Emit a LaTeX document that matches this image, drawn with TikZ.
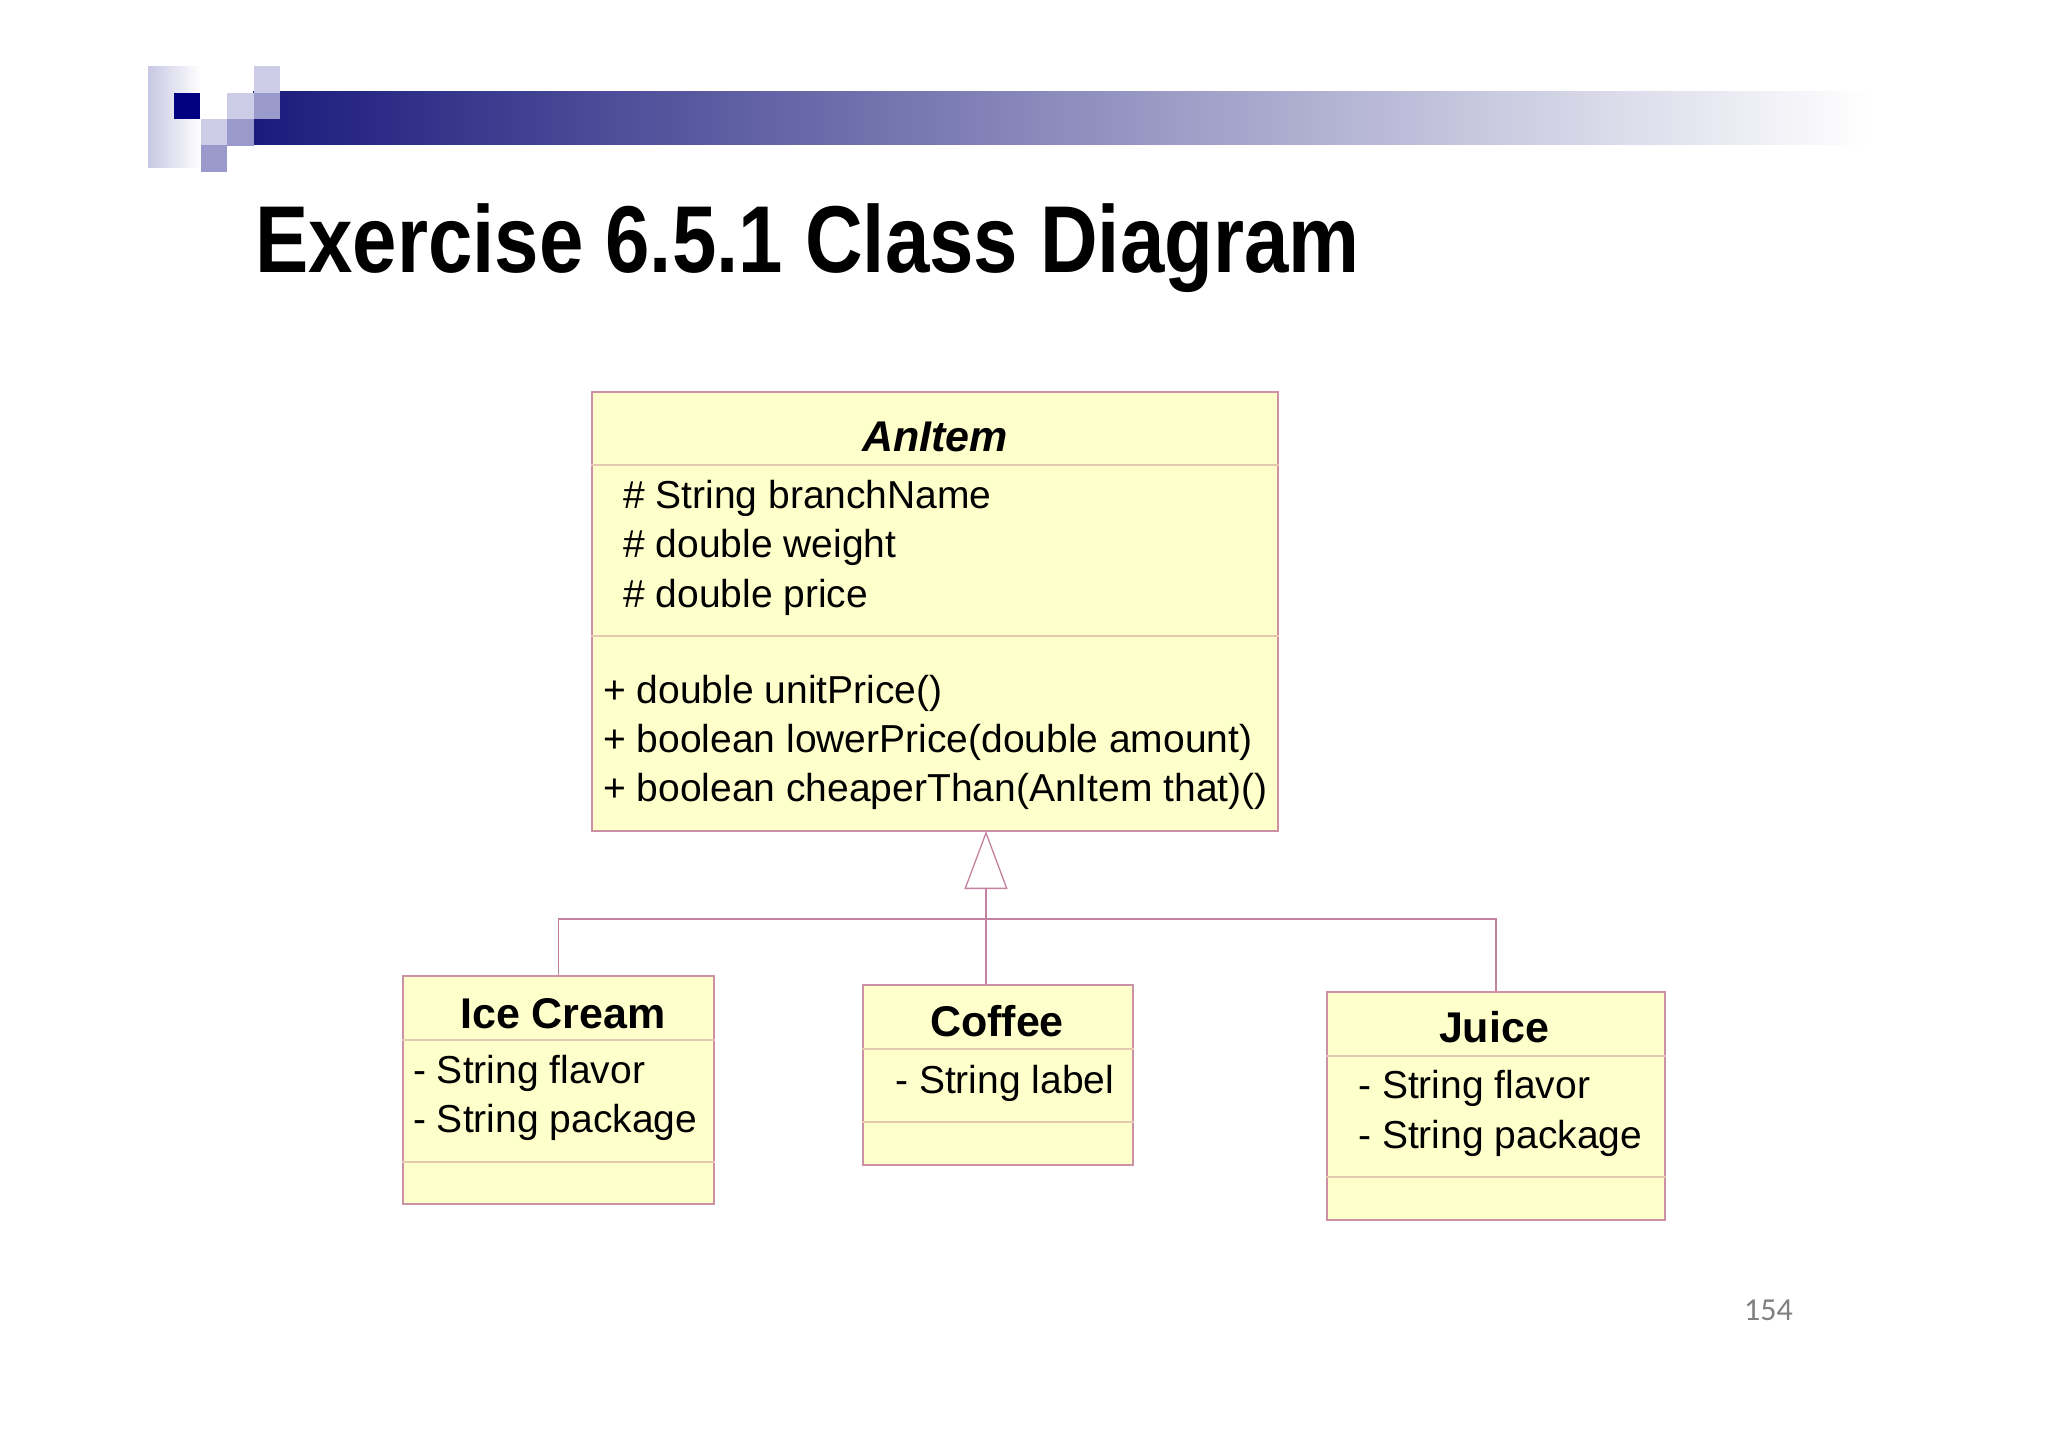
\documentclass[tikz,border=0pt]{standalone}
\usepackage{fontspec}
\setmainfont{Liberation Sans}
\newfontfamily\titlefont[FakeStretch=0.84]{Liberation Sans}
\newfontfamily\numfont{Carlito}
\usetikzlibrary{arrows.meta}
\definecolor{navy}{RGB}{0,0,128}
\definecolor{barleft}{RGB}{26,26,124}
\definecolor{barmid}{RGB}{140,140,178}
\definecolor{lightlav}{RGB}{204,204,230}
\definecolor{medlav}{RGB}{153,153,204}
\definecolor{collav}{RGB}{200,200,228}
\definecolor{boxfill}{RGB}{255,255,204}
\definecolor{boxline}{RGB}{205,145,165}
\definecolor{sepline}{RGB}{228,200,175}
\definecolor{connline}{RGB}{195,130,160}
\definecolor{pagenum}{RGB}{128,128,128}
\begin{document}
\begin{tikzpicture}[x=1pt,y=-1pt,
  classbox/.style={draw=boxline, fill=boxfill, line width=1.3pt, inner sep=0, rectangle},
  sepline/.style={draw=sepline, line width=1.3pt},
  member/.style={anchor=base west, inner sep=0, font=\fontsize{39}{46}\selectfont},
  cname/.style={anchor=base, inner sep=0, font=\fontsize{43}{50}\selectfont\bfseries},
  conn/.style={draw=connline, line width=1.3pt},
  sq/.style={inner sep=0, minimum size=26.6pt, anchor=north west}]
\useasboundingbox (0,0) rectangle (2048,1447);
\fill[white] (0,0) rectangle (2048,1447);

% logo
\shade[left color=collav, right color=white] (148,67) rectangle (201,168);
\shade[left color=barleft, middle color=barmid, right color=white] (253,92) rectangle (1870,145);
\node[sq, fill=navy] (n1) at (173.5,92.5) {};
\node[sq, fill=lightlav] (n2) at (253.5,66) {};
\node[sq, fill=lightlav] (n3) at (227,92.5) {};
\node[sq, fill=medlav] (n4) at (253.5,92.5) {};
\node[sq, fill=lightlav] (n5) at (200.5,119) {};
\node[sq, fill=medlav] (n6) at (227,119) {};
\node[sq, fill=medlav] (n7) at (200.5,145) {};

% title
\node[anchor=base west, inner sep=0, font=\titlefont\bfseries\fontsize{95}{110}\selectfont] (title) at (255,273) {Exercise 6.5.1 Class Diagram};

% AnItem
\node[classbox, minimum width=686pt, minimum height=439pt] (anitem) at (935,611.5) {};
\draw[sepline] (anitem.west |- 0,465) -- (anitem.east |- 0,465);
\draw[sepline] (anitem.west |- 0,636) -- (anitem.east |- 0,636);
\node[cname, font=\fontsize{43}{50}\selectfont\bfseries\itshape] (anitemname) at (935,451) {AnItem};
\node[member] (a1) at (623,508) {\# String branchName};
\node[member] (a2) at (623,557.5) {\# double weight};
\node[member] (a3) at (623,607) {\# double price};
\node[member] (m1) at (603,703) {+ double unitPrice()};
\node[member] (m2) at (603,752) {+ boolean lowerPrice(double amount)};
\node[member] (m3) at (603,801) {+ boolean cheaperThan(AnItem that)()};

% Ice Cream
\node[classbox, minimum width=311pt, minimum height=228pt] (icecream) at (558.5,1090) {};
\draw[sepline] (icecream.west |- 0,1040) -- (icecream.east |- 0,1040);
\draw[sepline] (icecream.west |- 0,1162) -- (icecream.east |- 0,1162);
\node[cname] (icname) at (563,1028) {Ice Cream};
\node[member] (ic1) at (413,1083) {- String flavor};
\node[member] (ic2) at (413,1132) {- String package};

% Coffee
\node[classbox, minimum width=270pt, minimum height=180pt] (coffee) at (998,1075) {};
\draw[sepline] (coffee.west |- 0,1049) -- (coffee.east |- 0,1049);
\draw[sepline] (coffee.west |- 0,1122) -- (coffee.east |- 0,1122);
\node[cname] (coname) at (997,1036) {Coffee};
\node[member] (co1) at (895,1093) {- String label};

% Juice
\node[classbox, minimum width=338pt, minimum height=228pt] (juice) at (1496,1106) {};
\draw[sepline] (juice.west |- 0,1056) -- (juice.east |- 0,1056);
\draw[sepline] (juice.west |- 0,1177) -- (juice.east |- 0,1177);
\node[cname] (juname) at (1494,1042) {Juice};
\node[member] (ju1) at (1358,1098) {- String flavor};
\node[member] (ju2) at (1358,1148) {- String package};

% generalization
\coordinate (apex) at (986,831);
\coordinate (bus) at (986,919);
\draw[conn] (icecream.north) |- (bus) -| (juice.north);
\draw[conn, -{Triangle[open, length=58pt, width=43pt]}] (coffee.north -| apex) -- (apex);

% page number
\node[anchor=base west, inner sep=0, text=pagenum, font=\numfont\fontsize{32}{38}\selectfont] (pnum) at (1744,1320) {154};
\end{tikzpicture}
\end{document}
